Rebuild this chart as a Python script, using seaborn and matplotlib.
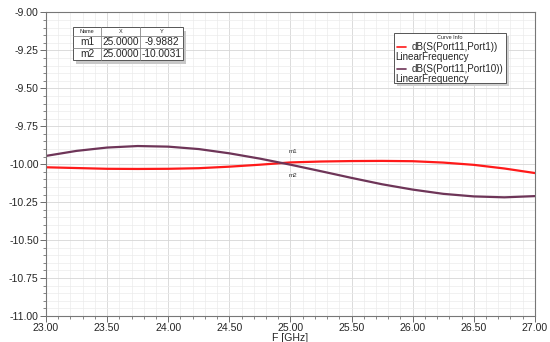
import matplotlib
matplotlib.use("Agg")
import matplotlib.pyplot as plt
import seaborn as sns
import pandas as pd
import numpy as np
from matplotlib.ticker import MultipleLocator, FormatStrFormatter
from matplotlib.patches import Rectangle
from matplotlib.lines import Line2D

freq = [23.0, 23.25, 23.5, 23.75, 24.0, 24.25, 24.5, 24.75, 25.0,
        25.25, 25.5, 25.75, 26.0, 26.25, 26.5, 26.75, 27.0]
s_port1 = [-10.020, -10.025, -10.030, -10.031, -10.030, -10.026, -10.016, -10.003, -9.988,
           -9.982, -9.979, -9.978, -9.980, -9.989, -10.004, -10.028, -10.058]
s_port10 = [-9.945, -9.912, -9.890, -9.880, -9.884, -9.900, -9.928, -9.963, -10.003,
            -10.046, -10.090, -10.132, -10.167, -10.195, -10.212, -10.218, -10.210]
series_names = ["dB(S(Port11,Port1))", "dB(S(Port11,Port10))"]
series_colors = ["#ff1a1a", "#6e3558"]
marker_names = ["m1", "m2"]
marker_x = [25.0, 25.0]
marker_y = [-9.9882, -10.0031]

df = pd.concat([
    pd.DataFrame({"F": freq, "dB": s_port1, "curve": series_names[0]}),
    pd.DataFrame({"F": freq, "dB": s_port10, "curve": series_names[1]}),
])

sns.set_style("white")
plt.rcParams["font.family"] = ["Liberation Sans", "DejaVu Sans"]

fig = plt.figure(figsize=(5.5, 3.42), dpi=100)
ax = fig.add_axes([0.0836, 0.076, 0.889, 0.8875])

sns.lineplot(data=df, x="F", y="dB", hue="curve", palette=series_colors,
             hue_order=series_names, ax=ax, linewidth=1.6, legend=False)

ax.set_xlim(23, 27)
ax.set_ylim(-11, -9)
ax.xaxis.set_major_locator(MultipleLocator(0.5))
ax.xaxis.set_minor_locator(MultipleLocator(0.1))
ax.yaxis.set_major_locator(MultipleLocator(0.25))
ax.yaxis.set_minor_locator(MultipleLocator(0.05))
ax.xaxis.set_major_formatter(FormatStrFormatter("%.2f"))
ax.yaxis.set_major_formatter(FormatStrFormatter("%.2f"))
ax.grid(which="major", color="#d6d6d6", linewidth=0.6)
ax.grid(which="minor", color="#ebebeb", linewidth=0.5)
ax.set_axisbelow(True)
ax.tick_params(axis="both", which="major", labelsize=7.6, length=4, width=0.6,
               color="#555555", pad=1.2, direction="out", left=True, bottom=True)
ax.tick_params(axis="both", which="minor", length=2.5, width=0.5, color="#555555",
               direction="out", left=True, bottom=True)
for s in ax.spines.values():
    s.set_color("#777777")
    s.set_linewidth(0.8)
ax.set_xlabel("F [GHz]", fontsize=7.6, labelpad=-0.5)
ax.set_ylabel("")

# marker labels
for name, mx, my, dy in zip(marker_names, marker_x, marker_y, [8, -8]):
    ax.annotate(name, (mx, my), xytext=(2, dy), textcoords="offset points",
                fontsize=4.5, ha="center", va="center", color="#333333")

# marker table
tx0, tx1 = 0.0552, 0.280
ty_top, ty_bot = 0.952, 0.843
ax.add_patch(Rectangle((tx0 + 0.006, ty_bot - 0.012), tx1 - tx0, ty_top - ty_bot,
                       transform=ax.transAxes, facecolor="#c8c8c8", edgecolor="none", zorder=5))
cols = [tx0, tx0 + 0.057, tx0 + 0.137, tx1]
rows_y = [ty_top, ty_top - 0.030, ty_top - 0.070, ty_bot]
ax.add_patch(Rectangle((tx0, ty_bot), tx1 - tx0, ty_top - ty_bot, transform=ax.transAxes,
                       facecolor="white", edgecolor="#555555", linewidth=0.7, zorder=6))
for c in cols[1:-1]:
    ax.add_line(Line2D([c, c], [ty_bot, ty_top], transform=ax.transAxes,
                       color="#888888", linewidth=0.6, zorder=7))
for r in rows_y[1:-1]:
    ax.add_line(Line2D([tx0, tx1], [r, r], transform=ax.transAxes,
                       color="#888888", linewidth=0.6, zorder=7))
headers = ["Name", "X", "Y"]
for i, h in enumerate(headers):
    ax.text((cols[i] + cols[i + 1]) / 2, (rows_y[0] + rows_y[1]) / 2, h,
            transform=ax.transAxes, fontsize=4, ha="center", va="center", zorder=8)
for j, (n, mx, my) in enumerate(zip(marker_names, marker_x, marker_y)):
    yc = (rows_y[j + 1] + rows_y[j + 2]) / 2
    for i, t in enumerate([n, f"{mx:.4f}", f"{my:.4f}"]):
        ax.text((cols[i] + cols[i + 1]) / 2, yc, t, transform=ax.transAxes,
                fontsize=7.3, ha="center", va="center", zorder=8)

# curve info legend
lx0, lx1 = 0.712, 0.941
ly_top, ly_bot = 0.932, 0.768
ax.add_patch(Rectangle((lx0 + 0.005, ly_bot - 0.01), lx1 - lx0, ly_top - ly_bot,
                       transform=ax.transAxes, facecolor="#d0d0d0", edgecolor="none", zorder=5))
ax.add_patch(Rectangle((lx0, ly_bot), lx1 - lx0, ly_top - ly_bot, transform=ax.transAxes,
                       facecolor="white", edgecolor="#555555", linewidth=0.7, zorder=6))
ax.text((lx0 + lx1) / 2, ly_top - 0.015, "Curve Info", transform=ax.transAxes,
        fontsize=4, ha="center", va="center", zorder=8)
for k, (nm, col) in enumerate(zip(series_names, series_colors)):
    yl = ly_top - 0.045 - k * 0.073
    ax.add_line(Line2D([lx0 + 0.006, lx0 + 0.024], [yl, yl], transform=ax.transAxes,
                       color=col, linewidth=1.2, zorder=8))
    ax.text(lx0 + 0.036, yl, nm, transform=ax.transAxes, fontsize=7.1,
            ha="left", va="center", zorder=8)
    ax.text(lx0 + 0.003, yl - 0.034, "LinearFrequency", transform=ax.transAxes,
            fontsize=7.1, ha="left", va="center", zorder=8)

fig.savefig("out.png", dpi=100)
